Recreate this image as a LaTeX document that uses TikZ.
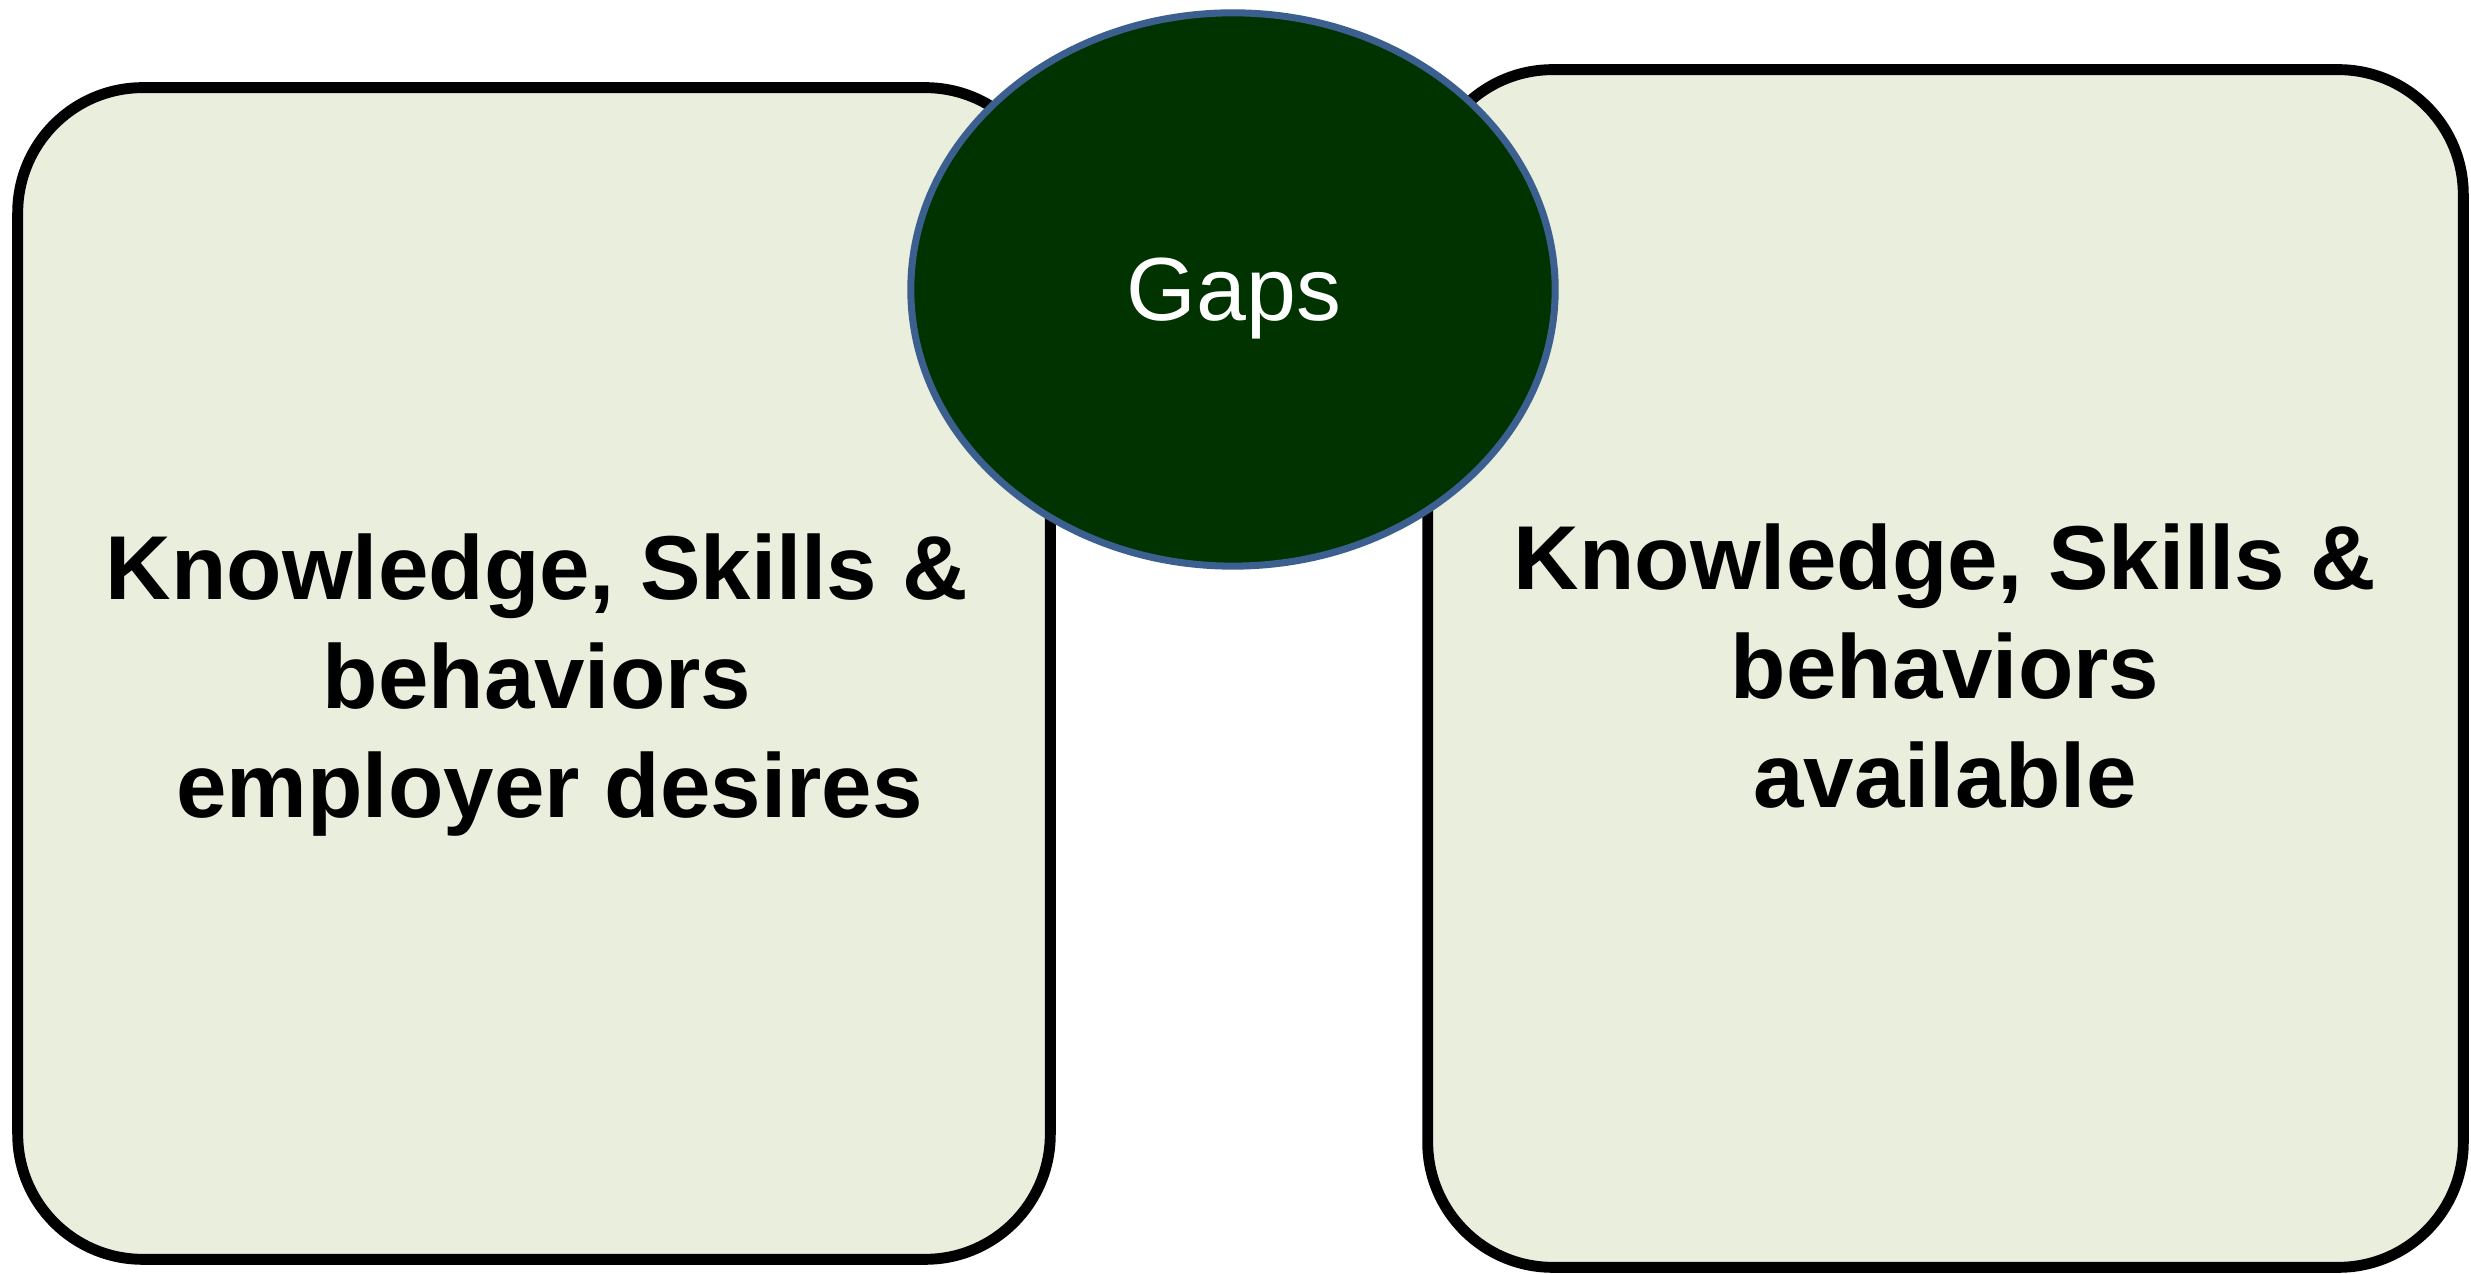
\documentclass[tikz,border=0pt]{standalone}
\usepackage{fontspec}
\setmainfont{Liberation Sans}
\usetikzlibrary{shapes.geometric}
\definecolor{boxfill}{HTML}{EAEEDD}
\definecolor{gapfill}{HTML}{003300}
\definecolor{gapline}{HTML}{3B5F8F}
\tikzset{
	ksbox/.style={draw=black, fill=boxfill, line width=3.1pt, rounded corners=1.25cm, inner sep=0pt},
	kstext/.style={anchor=base, align=center, font=\bfseries\fontsize{25.8}{31}\selectfont},
	gapoval/.style={ellipse, draw=gapline, fill=gapfill, line width=2pt, inner sep=0pt, text=white, font=\fontsize{25}{30}\selectfont}
}
\begin{document}
\begin{tikzpicture}[x=0.01cm, y=-0.01cm]

		\useasboundingbox (0,0) rectangle (2471,1274);

		% Boxes
		\node[ksbox, minimum width=10.32cm, minimum height=11.71cm] (desired) at (534,673.5) {};
		\node[ksbox, minimum width=10.35cm, minimum height=11.97cm] (available) at (1945.5,668.5) {};

		% Texts
		\node[kstext] (desiredtext) at (537,818) {Knowledge, Skills \&\\behaviors\\~employer desires};
		\node[kstext] (availabletext) at (1945,808) {Knowledge, Skills \&\\behaviors\\available};

		% Gaps
		\node[gapoval, minimum width=6.44cm, minimum height=5.53cm] (gaps) at (1233,289.5) {};
		\node[anchor=base, text=white, font=\fontsize{25.5}{30}\selectfont] (gapstext) at (1234,321) {Gaps};

	\end{tikzpicture}
\end{document}
